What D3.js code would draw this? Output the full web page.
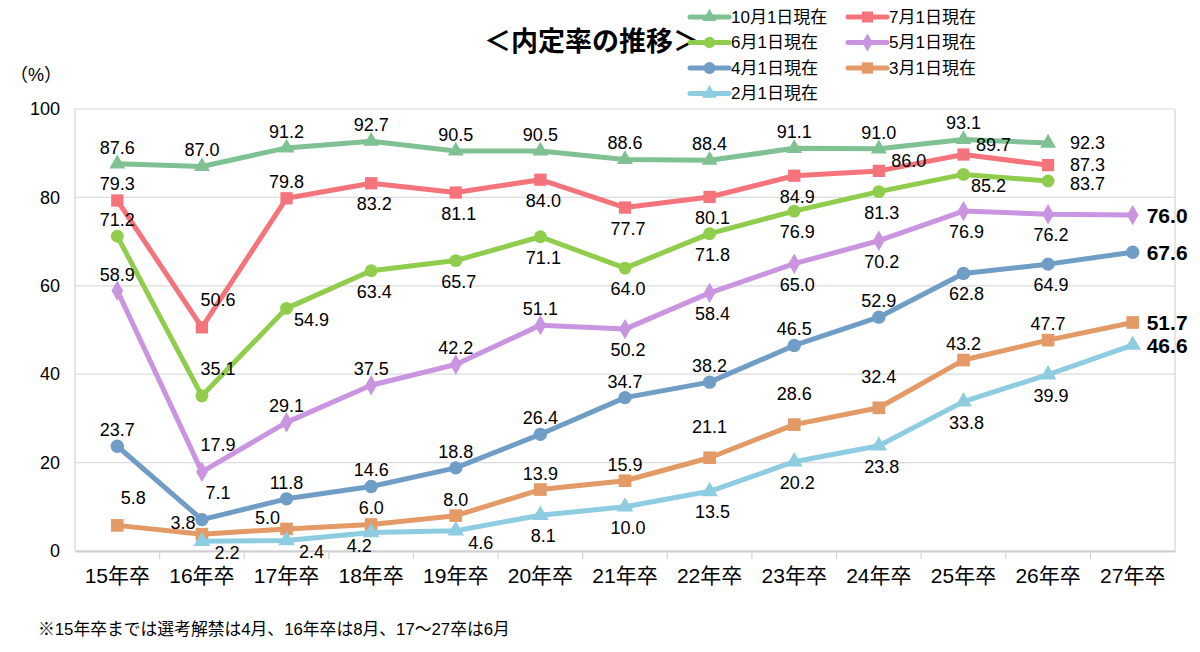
<!DOCTYPE html>
<html>
<head>
<meta charset="utf-8">
<script src="https://cdn.jsdelivr.net/npm/d3@7"></script>
<style>
  body { margin: 0; background: #fff; }
  svg text { font-family: "Liberation Sans", "Noto Sans CJK JP", sans-serif; fill: #000; }
</style>
</head>
<body>
<div id="chart"></div>
<script>
// categories and series values
var categories = ["15年卒", "16年卒", "17年卒", "18年卒", "19年卒", "20年卒", "21年卒",
                  "22年卒", "23年卒", "24年卒", "25年卒", "26年卒", "27年卒"];

var oct1 = [87.6, 87.0, 91.2, 92.7, 90.5, 90.5, 88.6, 88.4, 91.1, 91.0, 93.1, 92.3, null];
var jul1 = [79.3, 50.6, 79.8, 83.2, 81.1, 84.0, 77.7, 80.1, 84.9, 86.0, 89.7, 87.3, null];
var jun1 = [71.2, 35.1, 54.9, 63.4, 65.7, 71.1, 64.0, 71.8, 76.9, 81.3, 85.2, 83.7, null];
var may1 = [58.9, 17.9, 29.1, 37.5, 42.2, 51.1, 50.2, 58.4, 65.0, 70.2, 76.9, 76.2, 76.0];
var apr1 = [23.7, 7.1, 11.8, 14.6, 18.8, 26.4, 34.7, 38.2, 46.5, 52.9, 62.8, 64.9, 67.6];
var mar1 = [5.8, 3.8, 5.0, 6.0, 8.0, 13.9, 15.9, 21.1, 28.6, 32.4, 43.2, 47.7, 51.7];
var feb1 = [null, 2.2, 2.4, 4.2, 4.6, 8.1, 10.0, 13.5, 20.2, 23.8, 33.8, 39.9, 46.6];

var seriesNames = ["10月1日現在", "7月1日現在", "6月1日現在", "5月1日現在",
                   "4月1日現在", "3月1日現在", "2月1日現在"];

var yTicks = [0, 20, 40, 60, 80, 100];

// where each value label sits relative to its point
var placeOct = ["t","t","t","t","t","t","t","t","t","t","t","r",null];
var placeJul = ["t","tr","t","b","b","b","b","b","b","rt","rt","r",null];
var placeJun = ["t","tr","br","b","b","b","b","b","b","b","br","rb",null];
var placeMay = ["t","tr","t","t","t","t","b","b","b","b","b","b","R"];
var placeApr = ["t","tr","t","t","t","t","t","t","t","t","b","b","R"];
var placeMar = ["tr","tl","tl","t","t","t","t","tt","tt","tt","t","t","R"];
var placeFeb = [null,"br","br","bl","br","b","b","b","b","b","b","b","R"];

var footnote = "※15年卒までは選考解禁は4月、16年卒は8月、17～27卒は6月";

var series = [
  { name: seriesNames[0], values: oct1, place: placeOct, color: "#80c194", shape: d3.symbolTriangle, size: 110 },
  { name: seriesNames[1], values: jul1, place: placeJul, color: "#f5747c", shape: d3.symbolSquare, size: 150 },
  { name: seriesNames[2], values: jun1, place: placeJun, color: "#90cd4c", shape: d3.symbolCircle, size: 130 },
  { name: seriesNames[3], values: may1, place: placeMay, color: "#c995e0", shape: d3.symbolDiamond, size: 120 },
  { name: seriesNames[4], values: apr1, place: placeApr, color: "#709dc6", shape: d3.symbolCircle, size: 140 },
  { name: seriesNames[5], values: mar1, place: placeMar, color: "#e39a66", shape: d3.symbolSquare, size: 160 },
  { name: seriesNames[6], values: feb1, place: placeFeb, color: "#8ecde1", shape: d3.symbolTriangle, size: 120 }
];

var offsets = {
  t:  [0, -16, "middle"],
  tt: [0, -31, "middle"],
  b:  [3, 21, "middle"],
  tr: [16, -27, "middle"],
  tl: [-19, -11, "middle"],
  br: [25, 12, "middle"],
  bl: [-12, 14, "middle"],
  rt: [30, -10, "middle"],
  r:  [22, 0, "start"],
  rb: [22, 3, "start"],
  R:  [14, 0, "start"]
};

var svgWidth = 1200, svgHeight = 652;
var margin = { top: 109, right: 25, bottom: 101, left: 75 };
var width = svgWidth - margin.left - margin.right;
var height = svgHeight - margin.top - margin.bottom;

var svg = d3.select("#chart").append("svg")
  .attr("width", svgWidth)
  .attr("height", svgHeight);

var chartGroup = svg.append("g")
  .attr("transform", `translate(${margin.left}, ${margin.top})`);

var xScale = d3.scalePoint().domain(categories).range([0, width]).padding(0.5);
var xBand = d3.scaleBand().domain(categories).range([0, width]);
var yScale = d3.scaleLinear().domain([0, 100]).range([height, 0]);

// gridlines
chartGroup.selectAll(".grid")
  .data(yTicks)
  .enter().append("line")
  .attr("x1", 0).attr("x2", width)
  .attr("y1", d => yScale(d)).attr("y2", d => yScale(d))
  .attr("stroke", "#dcdcdc").attr("stroke-width", 1.2);

// plot border left/right
chartGroup.append("line").attr("x1", 0).attr("x2", 0).attr("y1", 0).attr("y2", height)
  .attr("stroke", "#d4d4d4").attr("stroke-width", 1.2);
chartGroup.append("line").attr("x1", width).attr("x2", width).attr("y1", 0).attr("y2", height)
  .attr("stroke", "#d4d4d4").attr("stroke-width", 1.2);

// x axis: ticks between categories
var xAxis = d3.axisBottom(xBand).tickSize(0).tickPadding(21);
var xg = chartGroup.append("g")
  .attr("transform", `translate(0, ${height})`)
  .call(xAxis);
xg.select(".domain").attr("stroke", "#cfcfcf").attr("stroke-width", 2);
xg.selectAll("text").attr("font-size", "21px").attr("dy", "0.5em");
chartGroup.selectAll(".xtick")
  .data(categories.slice(1))
  .enter().append("line")
  .attr("x1", d => xBand(d)).attr("x2", d => xBand(d))
  .attr("y1", height).attr("y2", height + 8)
  .attr("stroke", "#d4d4d4").attr("stroke-width", 1.2);

// y axis labels
var yAxis = d3.axisLeft(yScale).tickValues(yTicks).tickSize(0).tickPadding(15);
var yg = chartGroup.append("g").call(yAxis);
yg.select(".domain").remove();
yg.selectAll("text").attr("font-size", "18px");

svg.append("text")
  .attr("x", 36).attr("y", 81)
  .attr("text-anchor", "middle")
  .attr("font-size", "18px")
  .text("（%）");

// lines and markers
var line = d3.line()
  .defined(d => d.v != null)
  .x(d => xScale(d.c))
  .y(d => yScale(d.v));

series.forEach(function(s) {
  var pts = s.values.map((v, i) => ({ c: categories[i], v: v, p: s.place[i] }));
  s.pts = pts;
  chartGroup.append("path")
    .datum(pts)
    .attr("d", line)
    .attr("fill", "none")
    .attr("stroke", s.color)
    .attr("stroke-width", 5)
    .attr("stroke-linejoin", "round");

  chartGroup.selectAll(null)
    .data(pts.filter(d => d.v != null))
    .enter().append("path")
    .attr("d", d3.symbol().type(s.shape).size(s.size))
    .attr("transform", d => `translate(${xScale(d.c)}, ${yScale(d.v)})`)
    .attr("fill", s.color);
});

// value labels on top
series.forEach(function(s) {
  chartGroup.selectAll(null)
    .data(s.pts.filter(d => d.v != null))
    .enter().append("text")
    .attr("x", d => xScale(d.c) + offsets[d.p][0])
    .attr("y", d => yScale(d.v) + offsets[d.p][1])
    .attr("text-anchor", d => offsets[d.p][2])
    .attr("dominant-baseline", "central")
    .attr("font-size", d => d.p === "R" ? "21px" : "18px")
    .attr("font-weight", d => d.p === "R" ? "bold" : "normal")
    .text(d => d.v.toFixed(1));
});

// title
svg.append("text")
  .attr("x", 592).attr("y", 51)
  .attr("text-anchor", "middle")
  .attr("font-size", "27px")
  .attr("font-weight", "bold")
  .style("font-family", "'Noto Sans CJK JP', sans-serif")
  .text("＜内定率の推移＞");

// legend: two columns, row-wise
var legend = svg.append("g");
series.forEach(function(s, i) {
  var col = i % 2, row = Math.floor(i / 2);
  var lx = col === 0 ? 690 : 848;
  var ly = 17 + row * 25.5;
  var g = legend.append("g").attr("transform", `translate(${lx}, ${ly})`);
  g.append("line").attr("x1", 0).attr("x2", 39).attr("y1", 0).attr("y2", 0)
    .attr("stroke", s.color).attr("stroke-width", 5).attr("stroke-linecap", "round");
  g.append("path")
    .attr("d", d3.symbol().type(s.shape).size(s.size * 0.8))
    .attr("transform", "translate(19.5, 0)")
    .attr("fill", s.color);
  g.append("text")
    .attr("x", 41).attr("y", 0)
    .attr("dominant-baseline", "central")
    .attr("font-size", "17px")
    .text(s.name);
});

// footnote
svg.append("text")
  .attr("x", 38).attr("y", 629)
  .attr("dominant-baseline", "central")
  .attr("font-size", "16.8px")
  .text(footnote);
</script>
</body>
</html>
